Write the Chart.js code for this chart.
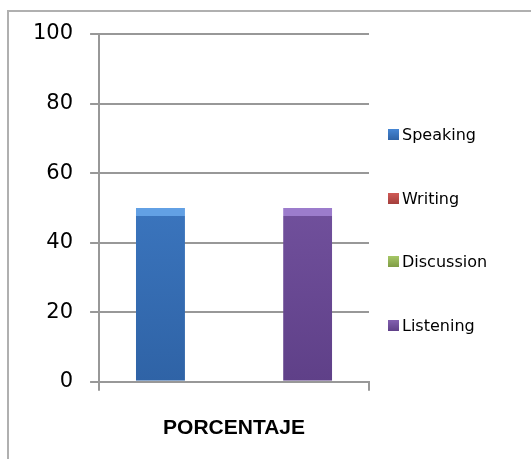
<!DOCTYPE html>
<html>
<head>
<meta charset="utf-8">
<script src="https://cdn.jsdelivr.net/npm/chart.js@4"></script>
<style>
    body { margin: 0; background: #fff; overflow: hidden; }
    #frame { position: absolute; left: 7px; top: 10px; width: 600px; height: 600px;
             border-left: 2px solid #b0b0b0; border-top: 2px solid #b0b0b0; }
    #chart { position: absolute; left: 0; top: 0; }
    #legend { position: absolute; left: 0; top: 0; font-family: "DejaVu Sans"; font-size: 16px; color: #000; }
    .item { position: absolute; left: 388px; height: 16px; line-height: 16px; white-space: nowrap; }
    .box { position: absolute; left: 0; top: 2px; width: 11px; height: 11px; }
    .label { position: absolute; left: 14px; top: 0; }
</style>
</head>
<body>
<div id="frame"></div>
<canvas id="chart" width="531" height="465"></canvas>
<div id="legend"></div>
<script>
const categories = ['PORCENTAJE'];
const seriesNames = ['Speaking', 'Writing', 'Discussion', 'Listening'];
const speaking = [50];
const writing = [0];
const discussion = [0];
const listening = [50];
const yTickStep = 20;
const yMax = 100;

const seriesValues = [speaking, writing, discussion, listening];
// [top, bottom, bevel]
const seriesColors = [
    ['#4686d4', '#2f63a6', '#62a0e4'],
    ['#d05a56', '#a33f3c', '#e07a76'],
    ['#a6c766', '#7f9c45', '#bcd880'],
    ['#8260b0', '#5f4088', '#9c7ccc']
];

function barGradient(i) {
    return function (context) {
        const area = context.chart.chartArea;
        if (!area) return seriesColors[i][0];
        const g = context.chart.ctx.createLinearGradient(0, area.top, 0, area.bottom);
        g.addColorStop(0, seriesColors[i][0]);
        g.addColorStop(1, seriesColors[i][1]);
        return g;
    };
}

const gridColor = '#989898';

const chart = new Chart(document.getElementById('chart').getContext('2d'), {
    type: 'bar',
    data: {
        labels: categories,
        datasets: seriesNames.map((name, i) => ({
            label: name,
            data: seriesValues[i],
            backgroundColor: barGradient(i),
            borderColor: seriesColors[i][2],
            borderWidth: {top: 8, left: 0, right: 0, bottom: 0},
            barPercentage: 1,
            categoryPercentage: 4 / 5.5
        }))
    },
    options: {
        responsive: false,
        animation: false,
        layout: {padding: {top: 34, left: 16, right: 162, bottom: 0}},
        plugins: {legend: {display: false}, tooltip: {enabled: false}},
        scales: {
            x: {
                grid: {display: true, drawOnChartArea: false, drawTicks: true, tickLength: 9, color: gridColor, lineWidth: 2},
                border: {display: true, color: gridColor, width: 2},
                ticks: {color: '#000', padding: 24.5, font: {family: 'Liberation Sans', size: 21, weight: 'bold'}}
            },
            y: {
                min: 0,
                max: yMax,
                grid: {color: gridColor, lineWidth: 2, tickLength: 9},
                border: {display: true, color: gridColor, width: 2},
                ticks: {stepSize: yTickStep, color: '#000', padding: 17, font: {family: 'DejaVu Sans', size: 21}}
            }
        }
    }
});

// legend, laid out like the original (box + label, spaced down the right side)
const legend = document.getElementById('legend');
seriesNames.forEach((name, i) => {
    const item = document.createElement('div');
    item.className = 'item';
    item.style.top = (127 + i * 63.5) + 'px';
    const box = document.createElement('div');
    box.className = 'box';
    box.style.background = `linear-gradient(${seriesColors[i][0]}, ${seriesColors[i][1]})`;
    const label = document.createElement('span');
    label.className = 'label';
    label.textContent = name;
    item.appendChild(box);
    item.appendChild(label);
    legend.appendChild(item);
});
</script>
</body>
</html>
